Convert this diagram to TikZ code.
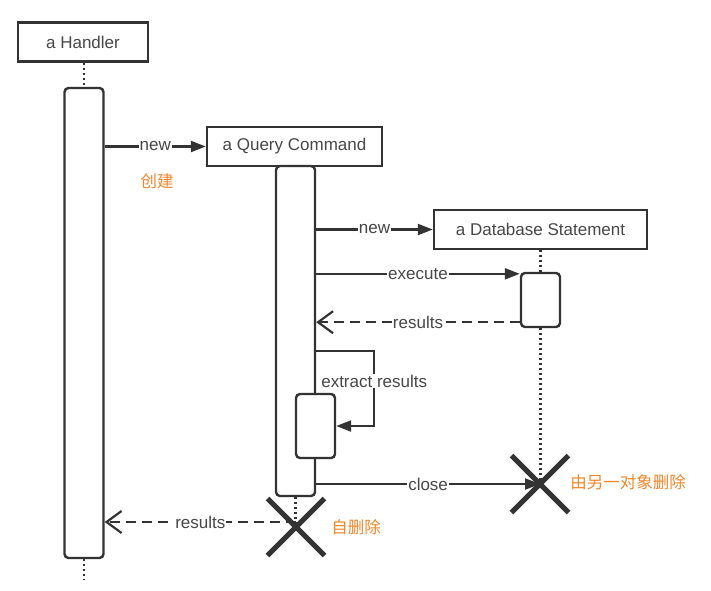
\documentclass[tikz,border=0pt]{standalone}
\usepackage{fontspec}
\setmainfont{Liberation Sans}
\newfontfamily\cjk{Noto Sans CJK SC}
\usepackage{xcolor}
\usetikzlibrary{arrows.meta,shapes.misc}
\definecolor{ink}{HTML}{333333}
\definecolor{notecolor}{HTML}{F5862A}

\begin{document}
\begin{tikzpicture}[x=1pt,y=-1pt,>={Triangle[length=15pt,width=11pt]},
  font=\fontsize{17}{20}\selectfont,
  obj/.style={draw=ink,text=ink!90,line width=2.4pt,minimum height=39pt,inner sep=0pt},
  bar/.style={draw=ink,line width=2.4pt,rounded corners=4pt,fill=white,minimum width=39pt,inner sep=0pt},
  life/.style={draw=ink,line width=2.2pt,dash pattern=on 2pt off 3pt},
  msg/.style={draw=ink,line width=2.2pt,->},
  ret/.style={draw=ink,line width=2.2pt,dash pattern=on 10pt off 6pt,-{Straight Barb[length=15pt,width=22pt]}},
  lbl/.style={fill=white,text=ink!90,inner sep=1pt},
  kill/.style={draw=ink,cross out,line width=5pt,minimum size=52pt,inner sep=0pt},
  remark/.style={text=notecolor,font=\cjk\fontsize{16.5}{20}\selectfont}]
  \useasboundingbox (0,0) rectangle (711,590);

  % objects
  \node[obj,minimum width=130pt] (handler) at (83,42) {a Handler};
  \node[obj,minimum width=175pt] (query) at (294.5,146.5) {a Query Command};
  \node[obj,minimum width=213pt] (stmt) at (540.5,229.5) {a Database Statement};

  % activations
  \node[bar,minimum height=470pt] (hbar) at (84,323) {};
  \node[bar,minimum height=330pt] (qbar) at (295.5,331) {};
  \node[bar,minimum height=64pt] (ebar) at (315.5,426) {};
  \node[bar,minimum height=54pt] (sbar) at (540.5,300) {};
  \coordinate (hend) at (84,580);

  % lifelines
  \draw[life] (hbar.north |- handler.south) -- (hbar.north);
  \draw[life] (hbar.south) -- (hend);
  \draw[life] (stmt.south) -- (sbar.north);
  \draw[life] (sbar.south) -- (540.5,484);
  \draw[life] (qbar.south) -- (qbar.south |- 0,527);

  % destruction
  \node[kill] (sx) at (540,484) {};
  \node[kill] (qx) at (296,527) {};

  % messages
  \draw[msg] (hbar.east |- query.west) -- node[lbl] {new} (query.west);
  \node[remark] (create) at (157,181) {创建};
  \draw[msg] (qbar.east |- stmt.west) -- node[lbl] {new} (stmt.west);
  \coordinate (exec) at ([yshift=-2pt]sbar.north west);
  \draw[msg] (qbar.east |- exec) -- node[lbl] {execute} (exec);
  \coordinate (back) at ([yshift=6pt]sbar.south west);
  \draw[ret] (back) -- node[lbl] {results} (qbar.east |- back);
  \draw[msg] (qbar.east |- 0,351) -| node[lbl,pos=0.7] {extract results}
    ([xshift=38pt]ebar.east) -- (ebar.east);
  \draw[msg] (qbar.east |- sx.center) -- node[lbl] {close} (sx.center);
  \node[remark] (otherdel) at (628,482) {由另一对象删除};
  \coordinate (qback) at ([yshift=5pt]qx.center);
  \draw[ret] (qback) -- node[lbl] {results} (hbar.east |- qback);
  \node[remark] (selfdel) at (356,527) {自删除};
\end{tikzpicture}
\end{document}
